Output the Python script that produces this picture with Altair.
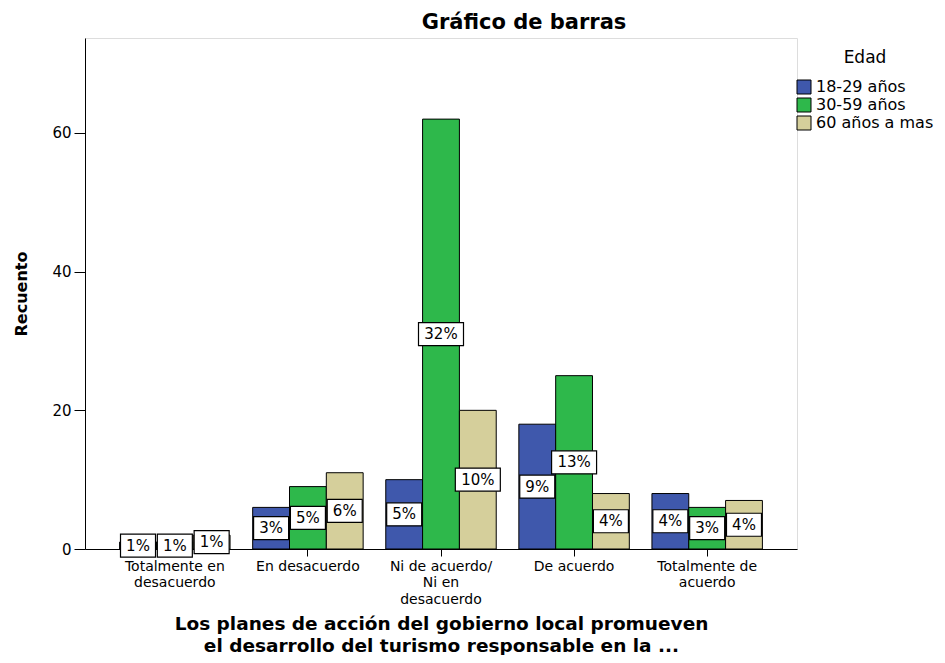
import altair as alt
import pandas as pd

categories = [
    "Totalmente en desacuerdo",
    "En desacuerdo",
    "Ni de acuerdo/ Ni en desacuerdo",
    "De acuerdo",
    "Totalmente de acuerdo",
]
category_lines = [
    ["Totalmente en", "desacuerdo"],
    ["En desacuerdo"],
    ["Ni de acuerdo/", "Ni en", "desacuerdo"],
    ["De acuerdo"],
    ["Totalmente de", "acuerdo"],
]
groups = ["18-29 años", "30-59 años", "60 años a mas"]

v_18_29 = [1, 6, 10, 18, 8]
v_30_59 = [1, 9, 62, 25, 6]
v_60_mas = [2, 11, 20, 8, 7]

pct_18_29 = ["1%", "3%", "5%", "9%", "4%"]
pct_30_59 = ["1%", "5%", "32%", "13%", "3%"]
pct_60_mas = ["1%", "6%", "10%", "4%", "4%"]

colors = ["#3F58AC", "#2EB84B", "#D5CF9B"]

FONT = "DejaVu Sans"
BOX3 = "M-1,-0.511L1,-0.511L1,0.511L-1,0.511Z"
BOX2 = "M-0.778,-0.511L0.778,-0.511L0.778,0.511L-0.778,0.511Z"

rows = []
for g, vals, pcts in zip(groups, [v_18_29, v_30_59, v_60_mas], [pct_18_29, pct_30_59, pct_60_mas]):
    for c, v, p in zip(categories, vals, pcts):
        rows.append({"cat": c, "grupo": g, "valor": v, "mitad": v / 2, "pct": p,
                     "box": BOX3 if len(p) >= 3 else BOX2})
df = pd.DataFrame(rows)

# label expression for multi-line category labels
expr = "''"
for c, lines in reversed(list(zip(categories, category_lines))):
    arr = "[" + ",".join("'" + l + "'" for l in lines) + "]"
    expr = f"datum.label == '{c}' ? {arr} : ({expr})"

x_enc = alt.X(
    "cat:N",
    sort=categories,
    scale=alt.Scale(paddingInner=0.17, paddingOuter=0.26),
    axis=alt.Axis(
        title=["Los planes de acción del gobierno local promueven",
               "el desarrollo del turismo responsable en la ..."],
        labelExpr=expr,
        labelAngle=0,
        labelFont=FONT,
        labelFontSize=14,
        labelColor="black",
        labelLineHeight=16.5,
        labelPadding=3,
        tickColor="black",
        tickSize=7,
        domainColor="black",
        titleFont=FONT,
        titleFontSize=18.5,
        titleFontWeight="bold",
        titleColor="black",
        titlePadding=8,
        titleLineHeight=22,
    ),
)
xo_enc = alt.XOffset("grupo:N", sort=groups)
y_scale = alt.Scale(domain=[0, 73.7], nice=False)
y_axis = alt.Axis(
    title="Recuento",
    values=[0, 20, 40, 60],
    grid=False,
    labelFont=FONT,
    labelFontSize=15,
    labelColor="black",
    labelPadding=3,
    tickColor="black",
    tickSize=11,
    domainColor="black",
    titleFont=FONT,
    titleFontSize=16,
    titleFontWeight="bold",
    titleColor="black",
    titlePadding=22,
)

base = alt.Chart(df)

bars = base.mark_bar(stroke="black", strokeWidth=1).encode(
    x=x_enc,
    xOffset=xo_enc,
    y=alt.Y("valor:Q", scale=y_scale, axis=y_axis),
    color=alt.Color(
        "grupo:N",
        sort=groups,
        scale=alt.Scale(domain=groups, range=colors),
        legend=alt.Legend(
            title="Edad",
            orient="none",
            legendX=711,
            legendY=12,
            titleFont=FONT,
            titleFontSize=17,
            titleFontWeight="normal",
            titleColor="black",
            titleAnchor="middle",
            titlePadding=12,
            labelFont=FONT,
            labelFontSize=16,
            labelColor="black",
            labelOffset=4,
            symbolType="square",
            symbolSize=196,
            symbolStrokeColor="black",
            symbolStrokeWidth=1,
            symbolOpacity=1,
            rowPadding=0,
        ),
    ),
)

boxes = base.mark_point(filled=True, fill="white", stroke="black", strokeWidth=1.2,
                        size=2025, opacity=1).encode(
    x=x_enc,
    xOffset=xo_enc,
    y=alt.Y("mitad:Q", scale=y_scale, axis=y_axis),
    shape=alt.Shape("box:N", scale=None, legend=None),
)

texts = base.mark_text(font=FONT, fontSize=15, color="black", baseline="middle").encode(
    x=x_enc,
    xOffset=xo_enc,
    y=alt.Y("mitad:Q", scale=y_scale, axis=y_axis),
    text="pct:N",
)

chart = alt.layer(bars, boxes, texts).properties(
    width=712,
    height=511,
    padding={"left": 5, "top": 4, "right": 0, "bottom": 0},
    title=alt.TitleParams(
        "Gráfico de barras",
        font=FONT,
        fontSize=21,
        fontWeight="bold",
        color="black",
        anchor="middle",
        dx=83,
        offset=5,
    ),
).configure_view(
    fill="#F0F0F0",
    stroke="#444444",
    strokeWidth=1.5,
).configure(background="white")

chart.save("out.html", embed_options={"renderer": "svg", "actions": False})
